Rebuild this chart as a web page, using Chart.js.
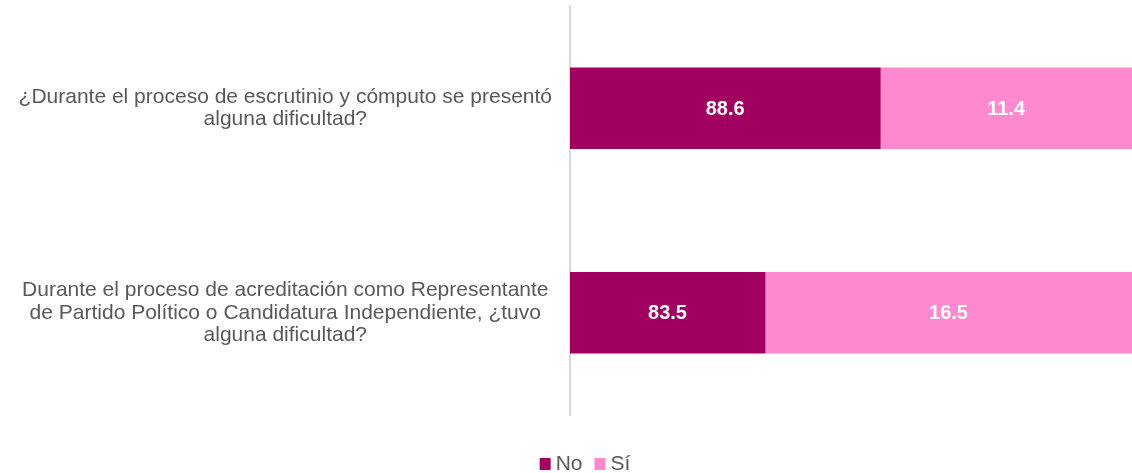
<!DOCTYPE html>
<html><head><meta charset="utf-8">
<script src="https://cdn.jsdelivr.net/npm/chart.js@4/dist/chart.umd.min.js"></script>
<style>html,body{margin:0;padding:0;background:#fff;}#wrap{width:1132px;height:473px;}</style>
</head><body><div id="wrap"><canvas id="c"></canvas></div>
<script>
const categories = [
  ["¿Durante el proceso de escrutinio y cómputo se presentó", "alguna dificultad?"],
  ["Durante el proceso de acreditación como Representante", "de Partido Político o Candidatura Independiente, ¿tuvo", "alguna dificultad?"]
];
const seriesNames = ["No", "Sí"];
// bar lengths as they appear in the picture (share of plotted width)
const barNo = [55.2, 34.7];
const barSi = [44.8, 65.3];
// values printed on the bars
const labelNo = [88.6, 83.5];
const labelSi = [11.4, 16.5];
const colors = ["#A10060", "#FF89CF"];
const FONT = '"Liberation Sans", Arial, sans-serif';

const valueLabels = {
  id: 'valueLabels',
  afterDatasetsDraw(chart) {
    const ctx = chart.ctx;
    const texts = [labelNo, labelSi];
    ctx.save();
    ctx.fillStyle = '#ffffff';
    ctx.font = 'bold 20px ' + FONT;
    ctx.textAlign = 'center';
    ctx.textBaseline = 'middle';
    chart.data.datasets.forEach((ds, di) => {
      chart.getDatasetMeta(di).data.forEach((el, i) => {
        const p = el.getProps(['x', 'base', 'y'], true);
        ctx.fillText(texts[di][i].toFixed(1), (p.x + p.base) / 2, p.y + 1);
      });
    });
    ctx.restore();
  }
};

const bottomLegend = {
  id: 'bottomLegend',
  afterDraw(chart) {
    const ctx = chart.ctx;
    ctx.save();
    ctx.font = '21px ' + FONT;
    ctx.textBaseline = 'middle';
    ctx.textAlign = 'left';
    const box = 11, gapText = 5, gapItem = 12;
    const ds = chart.data.datasets;
    let total = 0;
    ds.forEach((d, i) => {
      total += box + gapText + ctx.measureText(d.label).width + (i < ds.length - 1 ? gapItem : 0);
    });
    let x = 585 - total / 2;
    const cy = 464;
    ds.forEach((d) => {
      ctx.fillStyle = d.backgroundColor;
      ctx.fillRect(x, cy - 6, box, 12);
      x += box + gapText;
      ctx.fillStyle = '#595959';
      ctx.fillText(d.label, x, cy);
      x += ctx.measureText(d.label).width + gapItem;
    });
    ctx.restore();
  }
};

new Chart(document.getElementById('c'), {
  type: 'bar',
  data: {
    labels: categories,
    datasets: [
      { label: seriesNames[0], data: barNo, backgroundColor: colors[0], barThickness: 81 },
      { label: seriesNames[1], data: barSi, backgroundColor: colors[1], barThickness: 81 }
    ]
  },
  options: {
    indexAxis: 'y',
    responsive: true,
    maintainAspectRatio: false,
    animation: false,
    layout: { padding: { top: 6, right: 0, left: 0, bottom: 58 } },
    scales: {
      x: { stacked: true, min: 0, max: 100, display: false },
      y: {
        stacked: true,
        afterFit(s) { s.width = 570; s.paddingTop = 0; s.paddingBottom = 0; },
        grid: { display: false, drawTicks: false },
        border: { display: true, color: '#D9D9D9', width: 2 },
        ticks: {
          crossAlign: 'center',
          padding: 18,
          color: '#595959',
          font: { family: FONT, size: 21, lineHeight: 1.07 }
        }
      }
    },
    plugins: {
      tooltip: { enabled: false },
      legend: { display: false }
    }
  },
  plugins: [valueLabels, bottomLegend]
});
</script></body></html>
